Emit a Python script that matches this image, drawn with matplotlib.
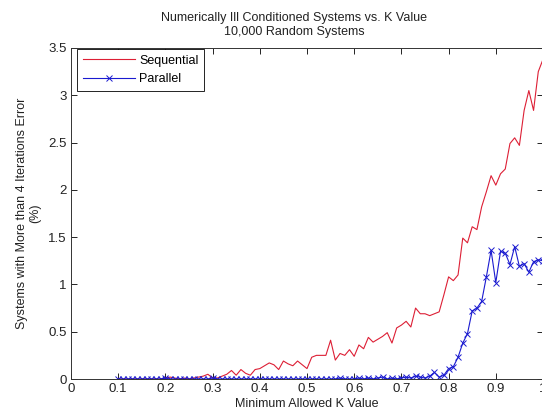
import numpy as np
import matplotlib
matplotlib.use('Agg')
import matplotlib.pyplot as plt

plt.rcParams['font.family'] = ['Liberation Sans', 'DejaVu Sans']

# minimum allowed K value, 0.10 .. 1.00 in steps of 0.01
k_values = np.round(np.linspace(0.10, 1.00, 91), 2)

# percent of systems with more than 4 iterations error
sequential = [
    0.00, 0.00, 0.00, 0.00, 0.00, 0.00, 0.00, 0.00, 0.00, 0.00,   # 0.10-0.19
    0.01, 0.02, 0.01, 0.00, 0.01, 0.00, 0.01, 0.02, 0.03, 0.05,   # 0.20-0.29
    0.01, 0.01, 0.03, 0.05, 0.09, 0.04, 0.10, 0.06, 0.04, 0.10,   # 0.30-0.39
    0.11, 0.14, 0.17, 0.15, 0.10, 0.19, 0.16, 0.14, 0.19, 0.15,   # 0.40-0.49
    0.11, 0.23, 0.25, 0.25, 0.25, 0.41, 0.20, 0.27, 0.25, 0.31,   # 0.50-0.59
    0.24, 0.36, 0.32, 0.44, 0.39, 0.42, 0.45, 0.49, 0.38, 0.54,   # 0.60-0.69
    0.57, 0.61, 0.55, 0.75, 0.69, 0.69, 0.67, 0.69, 0.71, 0.89,   # 0.70-0.79
    1.08, 1.04, 1.10, 1.49, 1.44, 1.61, 1.58, 1.82, 1.98, 2.15,   # 0.80-0.89
    2.05, 2.17, 2.22, 2.49, 2.55, 2.47, 2.84, 3.05, 2.84, 3.25,   # 0.90-0.99
    3.38,                                                         # 1.00
]
parallel = [
    0.00, 0.00, 0.00, 0.00, 0.00, 0.00, 0.00, 0.00, 0.00, 0.00,
    0.01, 0.00, 0.00, 0.00, 0.00, 0.00, 0.00, 0.00, 0.00, 0.00,
    0.01, 0.00, 0.00, 0.00, 0.00, 0.00, 0.00, 0.00, 0.00, 0.00,
    0.00, 0.00, 0.00, 0.00, 0.00, 0.00, 0.00, 0.00, 0.00, 0.00,
    0.00, 0.00, 0.00, 0.00, 0.00, 0.00, 0.00, 0.01, 0.00, 0.00,
    0.00, 0.01, 0.00, 0.01, 0.00, 0.01, 0.02, 0.00, 0.01, 0.00,
    0.01, 0.02, 0.01, 0.03, 0.02, 0.01, 0.03, 0.07, 0.02, 0.04,
    0.11, 0.13, 0.23, 0.38, 0.48, 0.72, 0.75, 0.82, 1.08, 1.36,
    1.02, 1.35, 1.33, 1.21, 1.40, 1.19, 1.22, 1.13, 1.24, 1.26,
    1.25,
]
x_ticks = [0, 0.1, 0.2, 0.3, 0.4, 0.5, 0.6, 0.7, 0.8, 0.9, 1]
x_tick_labels = ['0', '0.1', '0.2', '0.3', '0.4', '0.5', '0.6', '0.7', '0.8', '0.9', '1']
y_ticks = [0, 0.5, 1, 1.5, 2, 2.5, 3, 3.5]
y_tick_labels = ['0', '0.5', '1', '1.5', '2', '2.5', '3', '3.5']

W, H = 542, 418
fig = plt.figure(figsize=(W / 100, H / 100), dpi=100)
ax = fig.add_axes([71 / W, (H - 379) / H, 472 / W, 331 / H])

ax.plot(k_values, sequential, color='#dd1f35', lw=0.8, label='Sequential')
ax.plot(k_values, parallel, color='#1a1ad0', lw=0.8, marker='x', ms=4,
        mew=0.7, label='Parallel')

ax.set_xlim(0, 1)
ax.set_ylim(0, 3.5)
ax.set_xticks(x_ticks)
ax.set_xticklabels(x_tick_labels)
ax.set_yticks(y_ticks)
ax.set_yticklabels(y_tick_labels)
ax.tick_params(direction='in', length=4, width=0.6, top=True, right=True,
               labelsize=9.5, labelcolor='#222222', pad=3)
for s in ax.spines.values():
    s.set_linewidth(0.7)
    s.set_color('#333333')

ax.set_title('Numerically Ill Conditioned Systems vs. K Value\n10,000 Random Systems',
             fontsize=9, color='#222222', x=(294 - 71) / 472, pad=9, linespacing=1.25)
ax.set_xlabel('Minimum Allowed K Value', fontsize=9, color='#222222', labelpad=2)
ax.set_ylabel('Systems with More than 4 Iterations Error\n(%)', fontsize=9,
              color='#222222', labelpad=5, linespacing=1.2)

# legend box in the top-left corner, like MATLAB's NorthWest
leg = ax.legend(loc='upper left', bbox_to_anchor=(0.013, 0.997), borderaxespad=0,
                fancybox=False, framealpha=1, edgecolor='black', fontsize=9,
                handlelength=4.2, handletextpad=0.3, labelspacing=0.55,
                borderpad=0.45)
leg.get_frame().set_linewidth(0.6)

fig.savefig('out.png', dpi=100)
